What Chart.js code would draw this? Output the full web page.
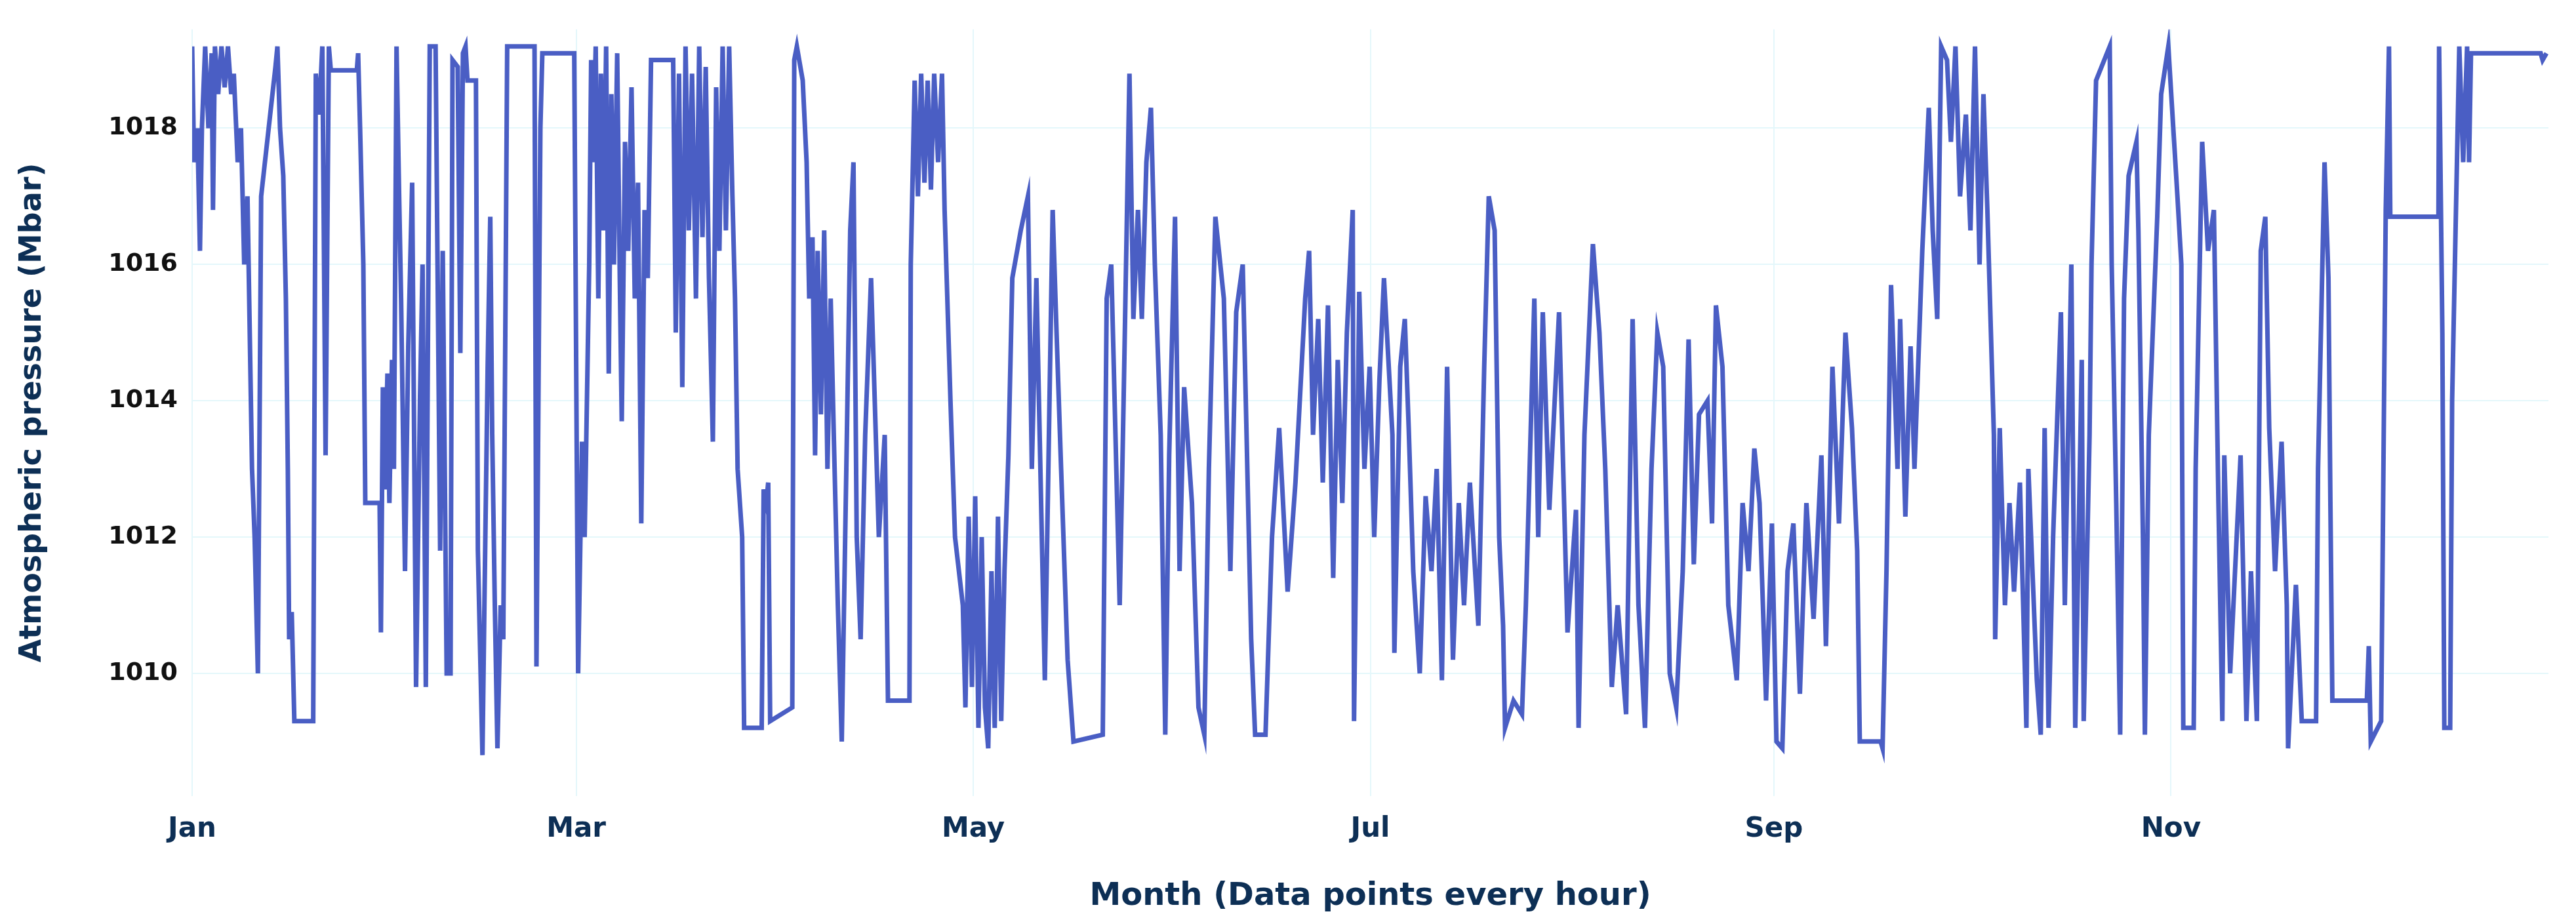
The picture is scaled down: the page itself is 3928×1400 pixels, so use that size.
<!DOCTYPE html>
<html>
<head>
<meta charset="utf-8">
<script src="https://cdn.jsdelivr.net/npm/chart.js@4.4.1/dist/chart.umd.min.js"></script>
<style>
  html, body { margin: 0; padding: 0; background: #fff; }
  #wrap { width: 3928px; height: 1400px; }
</style>
</head>
<body>
<div id="wrap"><canvas id="chartPressure" width="3928" height="1400"></canvas></div>
<script>
// --- Datos (día del año, presión en Mbar) ---
const dayOfYear = [
  0, 0.3, 0.8, 1.2, 1.5, 2, 2.5, 3, 3.2, 3.5, 4, 4.5, 5, 5.5, 6, 6.4, 7, 7.5, 8, 8.5, 9.2, 9.6, 10.1, 10.6, 12.8, 13.1, 13.5, 14, 14.4, 14.7, 14.9, 15.3, 15.7,
  18.6, 19, 19.5, 20, 20.5, 21, 21.3, 25.3, 25.5, 25.8, 26.3, 26.6, 28.8, 29, 29.3, 29.6, 30, 30.3, 30.7, 31, 31.4, 31.8, 32.1, 32.7, 33.2, 33.8, 34.4,
  35, 35.4, 35.9, 36.5, 37.4, 37.7, 38.1, 38.5, 39.1, 39.7, 40, 40.8, 41.2, 41.6, 42, 42.3, 43.6, 43.9, 44.6, 44.9, 45.4, 45.8, 46.1, 46.5, 46.9, 47.4, 47.8, 48.4,
  52.6, 52.9, 53.5, 53.8, 58.7, 59.3, 59.9, 60.3, 61, 61.3, 61.6, 62, 62.4, 62.8, 63.2, 63.6, 64, 64.4, 64.8, 65.3, 65.7, 66, 66.5, 67, 67.5, 68, 68.5, 69, 69.5, 70, 70.5,
  71, 73.9, 74.3, 74.8, 75.3, 75.8, 76.3, 76.8, 77.4, 77.9, 78.4, 78.9, 79.4, 80, 80.5, 81, 81.5, 82, 82.5, 83, 83.4, 83.8, 84.5, 84.8, 87.5, 87.8, 88.2, 88.5, 88.8, 92.2,
  92.5, 92.9, 93.8, 94.4, 94.8, 95.3, 95.7, 96.1, 96.6, 97.1, 97.6, 98.1, 98.6, 99.2, 99.8, 100.5, 101.1, 101.6, 102.1, 102.7, 103.4, 104.3, 105.5, 106.4, 106.9, 110.2,
  110.4, 111, 111.5, 112, 112.5, 113, 113.5, 114, 114.6, 115.2, 115.6, 116.5, 117.2, 118.4, 118.8, 119.3, 119.8, 120.3, 120.8, 121.3, 121.8, 122.3, 122.8, 123.3, 123.8,
  124.3, 124.8, 125.4, 126, 127.3, 128.4, 129, 129.7, 131, 132.2, 132.8, 133.5, 134.5, 135.4, 139.9, 140.5, 141.2, 142.5, 143.1, 144, 144.6, 145.3, 145.9, 146.6, 147.3,
  147.9, 148.8, 149.5, 150.1, 151, 151.7, 152.4, 153.6, 154.6, 155.5, 156.2, 157.2, 158.5, 159.5, 160.4, 161.4, 162.7, 163.3, 164.9, 165.9, 167, 168.3, 169.5, 171,
  171.6, 172.2, 173, 173.7, 174.5, 175.3, 176, 176.7, 177.4, 178.3, 178.5, 179.3, 180.1, 180.9, 181.6, 182.4, 183.1, 184.4, 184.7, 185.6, 186.3, 186.9, 187.6, 188.6,
  189.5, 190.4, 191.2, 192, 192.8, 193.7, 194.6, 195.4, 196.3, 197.6, 198.5, 199.2, 200.1, 200.8, 201.4, 201.7, 203, 204.3, 204.9, 206.2, 206.8, 207.5, 208.5, 210, 211.3,
  212.6, 213, 213.9, 215.2, 216.2, 217.1, 218.1, 219, 220.3, 221.3, 222.2, 223.2, 224.2, 225.1, 226, 227, 228, 229, 229.9, 230.7, 231.5, 232.8, 233.5, 234.1, 235.1,
  236, 237.3, 238.2, 239.1, 240, 240.8, 241.8, 242.7, 243.4, 244.3, 245.1, 246, 247, 248, 249.1, 250.3, 251, 252, 253, 254, 255, 255.8, 256.2, 259.4, 259.7, 260.3, 261,
  262, 262.4, 263.2, 264, 264.6, 265.8, 266.8, 267.4, 268.1, 268.7, 269.6, 270.2, 270.9, 271.6, 272.5, 273.2, 273.9, 274.6, 275.2, 275.8, 276.8, 277, 277.7, 278.5, 279.2,
  279.9, 280.8, 281.8, 282.1, 283.4, 284, 284.6, 285.2, 285.9, 287.1, 287.7, 288.7, 289.3, 290.3, 290.6, 291.5, 291.8, 292.5, 294.6, 294.9, 295.6, 296.2, 296.8, 297.5,
  298.7, 299, 299.7, 300, 300.6, 301.9, 302.5, 303.6, 305, 305.6, 305.9, 307.5, 307.8, 308.8, 309.7, 310.6, 311.3, 311.9, 312.2, 313.1, 314.7, 315.6, 316.3, 317.2, 317.8,
  318.5, 319.1, 320, 321, 321.8, 322, 323.2, 324.1, 326.3, 326.6, 327.6, 328.2, 328.5, 328.8, 334.1, 334.4, 334.7, 336.3, 337, 337.5, 337.7, 345.1, 345.2, 345.7, 346,
  346.9, 347.2, 348.3, 348.9, 349.5, 349.8, 350.1, 360.8, 361.1, 361.7
];
const pressureMbar = [
  1019.2, 1017.5, 1018, 1016.2, 1018, 1019.2, 1018, 1019.1, 1016.8, 1019.2, 1018.5, 1019.2, 1018.6, 1019.2, 1018.5, 1018.8, 1017.5, 1018, 1016, 1017, 1013, 1012, 1010, 1017, 1018.9, 1019.2, 1018, 1017.3, 1015.5, 1013, 1010.5, 1010.9, 1009.3,
  1009.3, 1018.8, 1018.2, 1019.2, 1013.2, 1019.2, 1018.85, 1018.85, 1019.1, 1018, 1016, 1012.5, 1012.5, 1010.6, 1014.2, 1012.7, 1014.4, 1012.5, 1014.6, 1013, 1019.2, 1017, 1015.5, 1011.5, 1014.8, 1017.2, 1009.8,
  1014, 1016, 1009.8, 1019.2, 1019.2, 1016, 1011.8, 1016.2, 1010, 1010, 1019, 1018.9, 1014.7, 1019.1, 1019.2, 1018.7, 1018.7, 1011.8, 1008.8, 1011, 1014.5, 1016.7, 1013.5, 1011, 1008.9, 1011, 1010.5, 1019.2,
  1019.2, 1010.1, 1018, 1019.1, 1019.1, 1010, 1013.4, 1012, 1016, 1019, 1017.5, 1019.2, 1015.5, 1018.8, 1016.5, 1019.2, 1014.4, 1018.5, 1016, 1019.1, 1015.8, 1013.7, 1017.8, 1016.2, 1018.6, 1015.5, 1017.2, 1012.2, 1016.8, 1015.8, 1019,
  1019, 1019, 1015, 1018.8, 1014.2, 1019.2, 1016.5, 1018.8, 1015.5, 1019.2, 1016.4, 1018.9, 1015.8, 1013.4, 1018.6, 1016.2, 1019.2, 1016.5, 1019.2, 1017, 1015.5, 1013, 1012, 1009.2, 1009.2, 1012.7, 1012.5, 1012.8, 1009.3, 1009.5,
  1019, 1019.2, 1018.7, 1017.5, 1015.5, 1016.4, 1013.2, 1016.2, 1013.8, 1016.5, 1013, 1015.5, 1013.4, 1011, 1009, 1013, 1016.5, 1017.5, 1012, 1010.5, 1013.5, 1015.8, 1012, 1013.5, 1009.6, 1009.6,
  1016, 1018.7, 1017, 1018.8, 1017.2, 1018.7, 1017.1, 1018.8, 1017.5, 1018.8, 1016.8, 1014, 1012, 1011, 1009.5, 1012.3, 1009.8, 1012.6, 1009.2, 1012, 1009.5, 1008.9, 1011.5, 1009.2, 1012.3,
  1009.3, 1011.5, 1013.2, 1015.8, 1016.5, 1017, 1013, 1015.8, 1009.9, 1016.8, 1015, 1013, 1010.2, 1009, 1009.1, 1015.5, 1016, 1011, 1014, 1018.8, 1015.2, 1016.8, 1015.2, 1017.5, 1018.3,
  1016, 1013.5, 1009.1, 1013.2, 1016.7, 1011.5, 1014.2, 1012.5, 1009.5, 1009.1, 1013, 1016.7, 1015.5, 1011.5, 1015.3, 1016, 1010.5, 1009.1, 1009.1, 1012, 1013.6, 1011.2, 1012.8, 1015.5,
  1016.2, 1013.5, 1015.2, 1012.8, 1015.4, 1011.4, 1014.6, 1012.5, 1015, 1016.8, 1009.3, 1015.6, 1013, 1014.5, 1012, 1014.3, 1015.8, 1013.5, 1010.3, 1014.5, 1015.2, 1013.6, 1011.5, 1010,
  1012.6, 1011.5, 1013, 1009.9, 1014.5, 1010.2, 1012.5, 1011, 1012.8, 1010.7, 1014.5, 1017, 1016.5, 1012, 1010.7, 1009.2, 1009.6, 1009.4, 1011, 1015.5, 1012, 1015.3, 1012.4, 1015.3, 1010.6,
  1012.4, 1009.2, 1013.5, 1016.3, 1015, 1013, 1009.8, 1011, 1009.4, 1015.2, 1011, 1009.2, 1013, 1015, 1014.5, 1010, 1009.5, 1011.5, 1014.9, 1011.6, 1013.8, 1014, 1012.2, 1015.4, 1014.5,
  1011, 1009.9, 1012.5, 1011.5, 1013.3, 1012.5, 1009.6, 1012.2, 1009, 1008.9, 1011.5, 1012.2, 1009.7, 1012.5, 1010.8, 1013.2, 1010.4, 1014.5, 1012.2, 1015, 1013.6, 1011.8, 1009, 1009, 1008.9, 1011.5, 1015.7,
  1013, 1015.2, 1012.3, 1014.8, 1013, 1016.2, 1018.3, 1016.5, 1015.2, 1019.2, 1019, 1017.8, 1019.2, 1017, 1018.2, 1016.5, 1019.2, 1016, 1018.5, 1016.8, 1013.5, 1010.5, 1013.6, 1011, 1012.5,
  1011.2, 1012.8, 1009.2, 1013, 1009.9, 1009.1, 1013.6, 1009.2, 1012, 1015.3, 1011, 1016, 1009.2, 1014.6, 1009.3, 1013.5, 1016, 1018.7, 1019.2, 1016, 1012.5, 1009.1, 1015.5, 1017.3,
  1017.8, 1016.5, 1012, 1009.1, 1013.5, 1016.7, 1018.5, 1019.2, 1017, 1016, 1009.2, 1009.2, 1013, 1017.8, 1016.2, 1016.8, 1012.5, 1009.3, 1013.2, 1010, 1013.2, 1009.3, 1011.5, 1009.3, 1016.2,
  1016.7, 1013.6, 1011.5, 1013.4, 1011, 1008.9, 1011.3, 1009.3, 1009.3, 1013, 1017.5, 1015.8, 1012.5, 1009.6, 1009.6, 1010.4, 1009, 1009.3, 1016.8, 1019.2, 1016.7, 1016.7, 1019.2, 1015, 1009.2,
  1009.2, 1014, 1019.2, 1017.5, 1019.2, 1017.5, 1019.1, 1019.1, 1019.0, 1019.1
];
const monthTickDays = [0, 59, 120, 181, 243, 304];
const monthTickLabels = ["Jan", "Mar", "May", "Jul", "Sep", "Nov"];
const yTickValues = [1010, 1012, 1014, 1016, 1018];

const el = (id) => document.getElementById(id);
const points = dayOfYear.map((d, i) => ({ x: d, y: pressureMbar[i] }));

const gridColor = "#e4f7fb";
const navy = "#0d2f55";

new Chart(el("chartPressure").getContext("2d"), {
    type: "line",
    data: {
        datasets: [{
            label: "Atmospheric pressure",
            data: points,
            borderColor: "#4a5ec4",
            borderWidth: 7,
            pointRadius: 0,
            tension: 0,
            fill: false,
        }],
    },
    options: {
        responsive: false,
        animation: false,
        devicePixelRatio: 1,
        layout: { padding: { top: 8, right: 42, left: 18, bottom: 0 } },
        plugins: { legend: { display: false }, tooltip: { enabled: false } },
        scales: {
            x: {
                type: "linear",
                min: 0,
                max: 362,
                afterBuildTicks: (s) => { s.ticks = monthTickDays.map((v) => ({ value: v })); },
                afterFit: (s) => { s.height = 186; },
                ticks: {
                    autoSkip: false,
                    maxRotation: 0,
                    padding: 26,
                    color: navy,
                    font: { family: "DejaVu Sans", size: 42, weight: "bold" },
                    callback: (v) => monthTickLabels[monthTickDays.indexOf(v)] ?? "",
                },
                grid: { color: gridColor, lineWidth: 2, drawTicks: false },
                border: { display: false },
                title: {
                    display: true,
                    text: "Month (Data points every hour)",
                    color: navy,
                    font: { family: "DejaVu Sans", size: 48, weight: "bold" },
                    padding: { top: 4 },
                },
            },
            y: {
                min: 1008.2,
                max: 1019.45,
                afterBuildTicks: (s) => { s.ticks = yTickValues.map((v) => ({ value: v })); },
                afterFit: (s) => { s.width = 275; },
                ticks: {
                    padding: 22,
                    color: "#111",
                    font: { family: "DejaVu Sans", size: 38, weight: "bold" },
                    callback: (v) => String(v),
                },
                grid: { color: gridColor, lineWidth: 2, drawTicks: false },
                border: { display: false },
                title: {
                    display: true,
                    text: "Atmospheric pressure (Mbar)",
                    color: navy,
                    font: { family: "DejaVu Sans", size: 46, weight: "bold" },
                    padding: { bottom: 10 },
                },
            },
        },
    },
});
</script>
</body>
</html>
